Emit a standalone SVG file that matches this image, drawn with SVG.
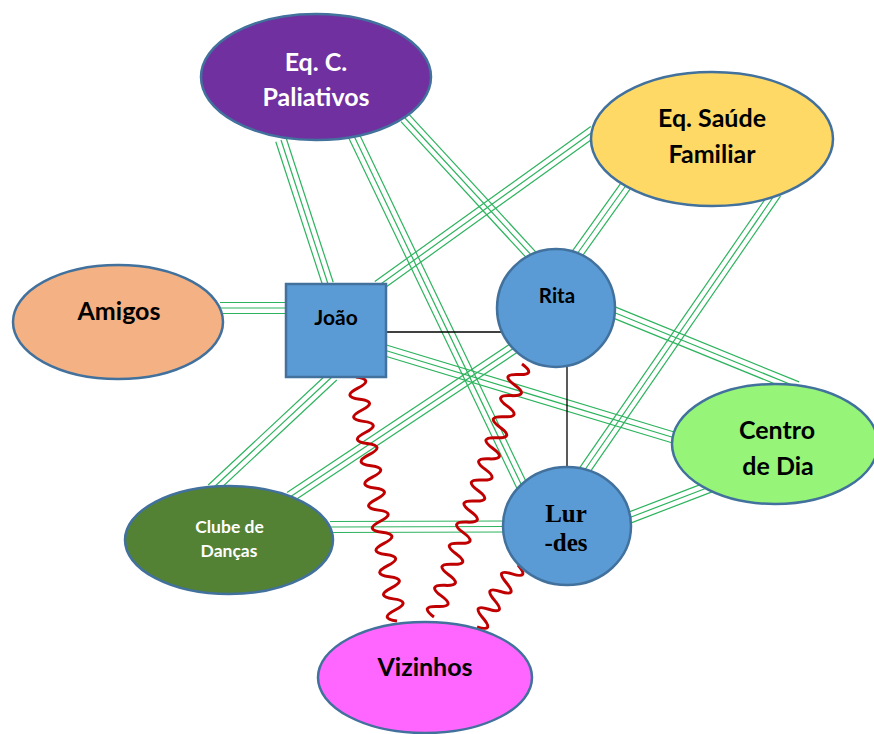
<svg xmlns="http://www.w3.org/2000/svg" width="874" height="734" viewBox="0 0 874 734">
<style>
.tri line{stroke:#2DB35E;stroke-width:1.2;fill:none}
.blk{stroke:#000;stroke-width:1.3}
.wave{stroke:#C00000;stroke-width:3;fill:none;stroke-linejoin:round}
.node{stroke:#41719C;stroke-width:2.5}
.lbl{font-family:Lato,"Open Sans","Liberation Sans",sans-serif;font-weight:bold;text-anchor:middle}
.ser{font-family:"Liberation Serif","Times New Roman",serif;font-weight:bold;text-anchor:middle}
</style>
<rect width="874" height="734" fill="#fff"/>
<g id="connectors">
  <g class="tri" id="c-amigos-joao">
    <line x1="220" y1="302.5" x2="288" y2="302.5"/><line x1="220" y1="308" x2="288" y2="308"/><line x1="220" y1="313.5" x2="288" y2="313.5"/>
  </g>
  <g class="tri" id="c-paliativos-joao">
    <line x1="275.8" y1="141.7" x2="322.8" y2="285.7"/><line x1="281" y1="140" x2="328" y2="284"/><line x1="286.2" y1="138.3" x2="333.2" y2="282.3"/>
  </g>
  <g class="tri" id="c-paliativos-lurdes">
    <line x1="349" y1="138.4" x2="517" y2="488.4"/><line x1="354" y1="136" x2="522" y2="486"/><line x1="359" y1="133.6" x2="527" y2="483.6"/>
  </g>
  <g class="tri" id="c-paliativos-rita">
    <line x1="401" y1="121.7" x2="530" y2="261.7"/><line x1="405" y1="118" x2="534" y2="258"/><line x1="409" y1="114.3" x2="538" y2="254.3"/>
  </g>
  <g class="tri" id="c-saude-joao">
    <line x1="590.8" y1="126.5" x2="374.8" y2="281.5"/><line x1="594" y1="131" x2="378" y2="286"/><line x1="597.2" y1="135.5" x2="381.2" y2="290.5"/>
  </g>
  <g class="tri" id="c-saude-rita">
    <line x1="622.5" y1="180.8" x2="572.5" y2="250.8"/><line x1="627" y1="184" x2="577" y2="254"/><line x1="631.5" y1="187.2" x2="581.5" y2="257.2"/>
  </g>
  <g class="tri" id="c-saude-lurdes">
    <line x1="771.5" y1="189.9" x2="577.5" y2="470.9"/><line x1="776" y1="193" x2="582" y2="474"/><line x1="780.5" y1="196.1" x2="586.5" y2="477.1"/>
  </g>
  <g class="tri" id="c-rita-centro">
    <line x1="610.9" y1="317.1" x2="794.9" y2="392.1"/><line x1="613" y1="312" x2="797" y2="387"/><line x1="615.1" y1="306.9" x2="799.1" y2="381.9"/>
  </g>
  <g class="tri" id="c-joao-centro">
    <line x1="382.4" y1="355.3" x2="673.4" y2="443.3"/><line x1="384" y1="350" x2="675" y2="438"/><line x1="385.6" y1="344.7" x2="676.6" y2="432.7"/>
  </g>
  <g class="tri" id="c-joao-clube">
    <line x1="329.2" y1="372" x2="208.2" y2="485"/><line x1="333" y1="376" x2="212" y2="489"/><line x1="336.8" y1="380" x2="215.8" y2="493"/>
  </g>
  <g class="tri" id="c-rita-clube">
    <line x1="514" y1="341.4" x2="287" y2="492.4"/><line x1="517" y1="346" x2="290" y2="497"/><line x1="520" y1="350.6" x2="293" y2="501.6"/>
  </g>
  <g class="tri" id="c-clube-lurdes">
    <line x1="330" y1="521.5" x2="506" y2="521"/><line x1="330" y1="527" x2="506" y2="526.5"/><line x1="330" y1="532.5" x2="506" y2="532"/>
  </g>
  <g class="tri" id="c-lurdes-centro">
    <line x1="624" y1="513.9" x2="710" y2="480.9"/><line x1="626" y1="519" x2="712" y2="486"/><line x1="628" y1="524.1" x2="714" y2="491.1"/>
  </g>
  <line class="blk" id="c-joao-rita" x1="386" y1="332" x2="506" y2="332"/>
  <line class="blk" id="c-rita-lurdes" x1="567" y1="366" x2="567" y2="469"/>
  <path class="wave" id="w-joao-vizinhos" transform="translate(356,377) rotate(80.46)" d="M0,0 q5.6,-18 11.25,0 t11.25,0 t11.25,0 t11.25,0 t11.25,0 t11.25,0 t11.25,0 t11.25,0 t11.25,0 t11.25,0 t11.25,0 t11.25,0 t11.25,0 t11.25,0 t11.25,0 t11.25,0 t11.25,0 t11.25,0 t11.25,0 t11.25,0 t11.25,0 t11.25,0"/>
  <path class="wave" id="w-rita-vizinhos" transform="translate(522,364) rotate(109.18)" d="M0,0 q5.6,-18 11.16,0 t11.16,0 t11.16,0 t11.16,0 t11.16,0 t11.16,0 t11.16,0 t11.16,0 t11.16,0 t11.16,0 t11.16,0 t11.16,0 t11.16,0 t11.16,0 t11.16,0 t11.16,0 t11.16,0 t11.16,0 t11.16,0 t11.16,0 t11.16,0 t11.16,0 t11.16,0 t11.16,0"/>
  <path class="wave" id="w-lurdes-vizinhos" transform="translate(518,565) rotate(123.48)" d="M0,0 q5.3,-18 10.6,0 t10.6,0 t10.6,0 t10.6,0 t10.6,0 t10.6,0 t10.6,0"/>
</g>
<g id="n-paliativos">
  <ellipse class="node" cx="316" cy="77" rx="115" ry="63" fill="#7030A0"/>
  <text class="lbl" x="316" y="71" font-size="25" fill="#fff">Eq. C.</text>
  <text class="lbl" x="316" y="106" font-size="25" fill="#fff">Paliativos</text>
</g>
<g id="n-saude">
  <ellipse class="node" cx="712" cy="139" rx="121" ry="67" fill="#FFD966"/>
  <text class="lbl" x="712" y="127" font-size="25" fill="#000">Eq. Saúde</text>
  <text class="lbl" x="712" y="163" font-size="25" fill="#000">Familiar</text>
</g>
<g id="n-amigos">
  <ellipse class="node" cx="118" cy="322" rx="105" ry="57" fill="#F4B183"/>
  <text class="lbl" x="119" y="320" font-size="25" fill="#000">Amigos</text>
</g>
<g id="n-joao">
  <rect class="node" x="286" y="284" width="100" height="93" fill="#5B9BD5" stroke-width="3"/>
  <text class="lbl" x="336" y="325" font-size="21" fill="#000">João</text>
</g>
<g id="n-rita">
  <circle class="node" cx="556" cy="308" r="59" fill="#5B9BD5"/>
  <text class="lbl" x="557" y="303" font-size="20.5" fill="#000">Rita</text>
</g>
<g id="n-lurdes">
  <ellipse class="node" cx="567" cy="526" rx="64" ry="59" fill="#5B9BD5"/>
  <text class="ser" x="566" y="522" font-size="25" fill="#000">Lur</text>
  <text class="ser" x="566" y="551" font-size="25" fill="#000">-des</text>
</g>
<g id="n-centro">
  <ellipse class="node" cx="775" cy="444" rx="103" ry="60" fill="#96F578"/>
  <text class="lbl" x="777" y="439" font-size="25" fill="#000">Centro</text>
  <text class="lbl" x="778" y="475" font-size="25" fill="#000">de Dia</text>
</g>
<g id="n-clube">
  <ellipse class="node" cx="229" cy="540" rx="104" ry="54" fill="#548235"/>
  <text class="lbl" x="229.5" y="533" font-size="17.5" fill="#fff">Clube de</text>
  <text class="lbl" x="229" y="557" font-size="17.5" fill="#fff">Danças</text>
</g>
<g id="n-vizinhos">
  <ellipse class="node" cx="425" cy="677.5" rx="107" ry="55.5" fill="#FF66FF"/>
  <text class="lbl" x="425" y="676" font-size="25" fill="#000">Vizinhos</text>
</g>
</svg>
